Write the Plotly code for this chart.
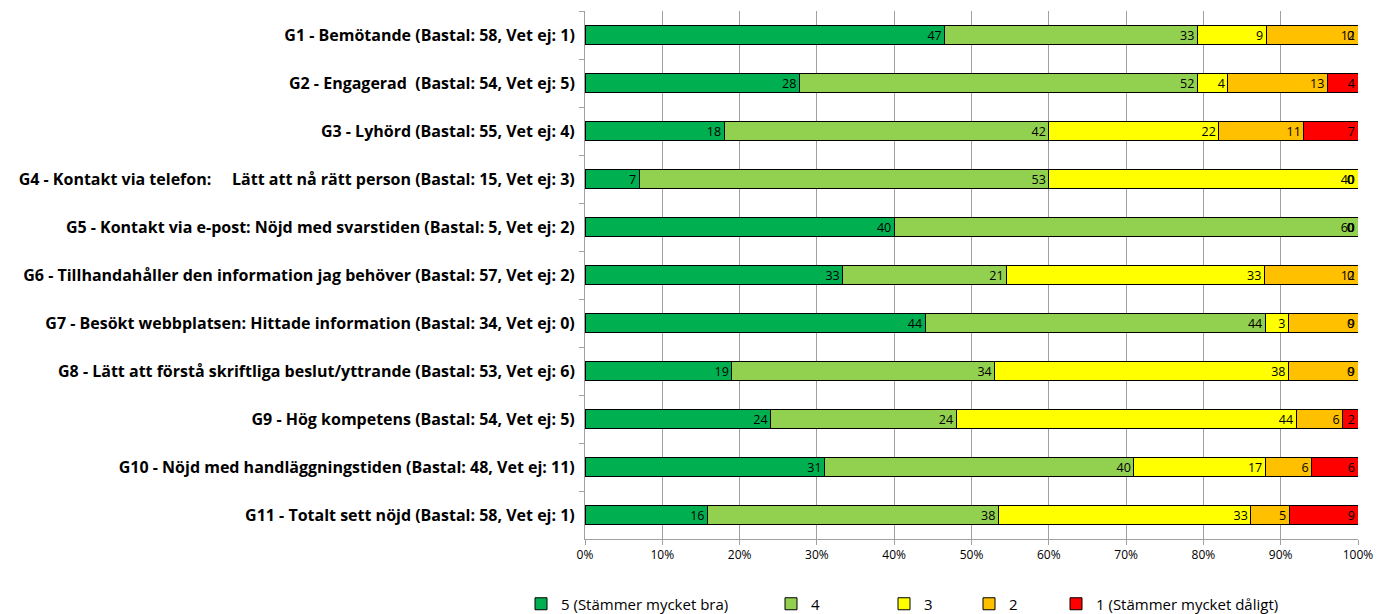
import plotly.graph_objects as go

# Survey statements, top to bottom
categories = [
    "G1 - Bemötande (Bastal: 58, Vet ej: 1)",
    "G2 - Engagerad\u00a0 (Bastal: 54, Vet ej: 5)",
    "G3 - Lyhörd (Bastal: 55, Vet ej: 4)",
    "G4 - Kontakt via telefon:\u00a0\u00a0\u00a0\u00a0 Lätt att nå rätt person (Bastal: 15, Vet ej: 3)",
    "G5 - Kontakt via e-post: Nöjd med svarstiden (Bastal: 5, Vet ej: 2)",
    "G6 - Tillhandahåller den information jag behöver (Bastal: 57, Vet ej: 2)",
    "G7 - Besökt webbplatsen: Hittade information (Bastal: 34, Vet ej: 0)",
    "G8 - Lätt att förstå skriftliga beslut/yttrande (Bastal: 53, Vet ej: 6)",
    "G9 - Hög kompetens (Bastal: 54, Vet ej: 5)",
    "G10 - Nöjd med handläggningstiden (Bastal: 48, Vet ej: 11)",
    "G11 - Totalt sett nöjd (Bastal: 58, Vet ej: 1)",
]

# Share of answers (%) per grade
grade5 = [47, 28, 18, 7, 40, 33, 44, 19, 24, 31, 16]
grade4 = [33, 52, 42, 53, 60, 21, 44, 34, 24, 40, 38]
grade3 = [9, 4, 22, 40, 0, 33, 3, 38, 44, 17, 33]
grade2 = [12, 13, 11, 0, 0, 12, 9, 9, 6, 6, 5]
grade1 = [0, 4, 7, 0, 0, 0, 0, 0, 2, 6, 9]

series_names = ["5 (Stämmer mycket bra)", "4", "3", "2", "1 (Stämmer mycket dåligt)"]
series_values = [grade5, grade4, grade3, grade2, grade1]
series_colors = ["#00B050", "#92D050", "#FFFF00", "#FFC000", "#FF0000"]

x_ticks = [0, 10, 20, 30, 40, 50, 60, 70, 80, 90, 100]
x_tick_labels = ["0%", "10%", "20%", "30%", "40%", "50%", "60%", "70%", "80%", "90%", "100%"]

FONT = "Open Sans"
LEFT, RIGHT, TOP, BOTTOM = 585, 19, 11, 75
W, H = 1377, 614

# one legend box per series, laid out along the bottom row (pixel start of each swatch)
legend_px = [541, 791, 904, 989, 1076]
legend_row_y = 604
legend_ids = ["legend", "legend2", "legend3", "legend4", "legend5"]

fig = go.Figure()
for name, vals, color, lid in zip(series_names, series_values, series_colors, legend_ids):
    fig.add_trace(go.Bar(
        y=categories,
        x=vals,
        name=name,
        orientation="h",
        legend=lid,
        showlegend=True,
        marker=dict(color=color, line=dict(color="#000000", width=1)),
        text=[str(v) if v else "" for v in vals],
        textposition="inside",
        insidetextanchor="end",
        constraintext="none",
        textangle=0,
        textfont=dict(family=FONT, size=12.5, color="#000000"),
        hoverinfo="name+x",
    ))

# Zero-valued segments still carry their "0" label at the stack position
annotations = []
for i, cat in enumerate(categories):
    total = sum(s[i] for s in series_values)
    running = 0
    for s in series_values:
        running += s[i]
        if s[i] == 0:
            annotations.append(dict(
                x=running / total * 100, y=cat, xref="x", yref="y",
                text="0", showarrow=False, xanchor="right", xshift=-2,
                font=dict(family=FONT, size=12.5, color="#000000"),
            ))

legend_layout = {}
for lid, px in zip(legend_ids, legend_px):
    legend_layout[lid] = dict(
        orientation="h",
        xref="container", yref="container",
        x=(px - 20) / W, xanchor="left",
        y=1 - legend_row_y / H, yanchor="middle",
        font=dict(family=FONT, size=15, color="#000000"),
        itemwidth=30,
        bgcolor="rgba(0,0,0,0)",
        visible=True,
    )

fig.update_layout(
    showlegend=True,
    barmode="stack",
    barnorm="percent",
    bargap=0.6,
    width=W,
    height=H,
    margin=dict(l=LEFT, r=RIGHT, t=TOP, b=BOTTOM, autoexpand=False),
    paper_bgcolor="#FFFFFF",
    plot_bgcolor="#FFFFFF",
    annotations=annotations,
    xaxis=dict(
        range=[0, 100],
        tickvals=x_ticks,
        ticktext=x_tick_labels,
        showgrid=True,
        gridcolor="#A0A0A0",
        gridwidth=1,
        showline=True,
        linecolor="#A0A0A0",
        ticks="outside",
        ticklen=5,
        tickcolor="#A0A0A0",
        tickfont=dict(family=FONT, size=12, color="#000000"),
        zeroline=False,
        fixedrange=True,
        automargin=False,
    ),
    yaxis=dict(
        autorange="reversed",
        tickson="boundaries",
        ticks="outside",
        ticklen=5,
        tickcolor="#A0A0A0",
        showline=True,
        linecolor="#A0A0A0",
        showgrid=False,
        tickfont=dict(family=FONT, size=16, color="#000000", weight="bold"),
        ticklabelstandoff=6,
        automargin=False,
    ),
    **legend_layout,
)

fig.write_html("out.html")
